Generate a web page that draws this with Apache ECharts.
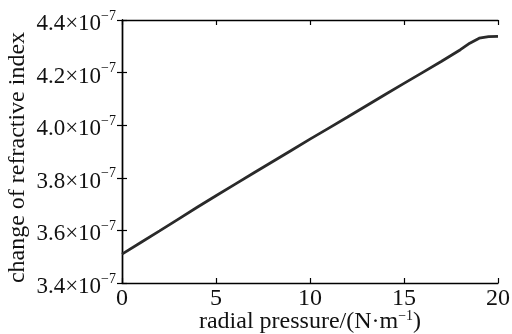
<!DOCTYPE html>
<html>
<head>
<meta charset="utf-8">
<script src="https://cdn.jsdelivr.net/npm/echarts@6/dist/echarts.min.js"></script>
<style>
html,body{margin:0;padding:0;background:#fff;}
#c{width:512px;height:334px;}
</style>
</head>
<body>
<div id="c"></div>
<script>
// radial pressure (N·m^-1)
const pressure = [0, 1, 2, 3, 4, 5, 6, 7, 8, 9, 10, 11, 12, 13, 14, 15, 16, 17, 18, 18.5, 19, 19.5, 20];
// change of refractive index, in units of 1e-7
const refrChange = [3.51, 3.554, 3.598, 3.643, 3.688, 3.732, 3.775, 3.818, 3.861, 3.904, 3.947, 3.989, 4.031, 4.074, 4.117, 4.159, 4.201, 4.243, 4.287, 4.312, 4.331, 4.337, 4.338];
const xTicks = [0, 5, 10, 15, 20];
const yTicks = [3.4, 3.6, 3.8, 4.0, 4.2, 4.4];
const yExponent = '−7';

const FONT = '"Liberation Serif", "DejaVu Serif", serif';
const data = pressure.map((p, i) => [p, refrChange[i]]);

const axisLine = {show: true, lineStyle: {color: '#000', width: 1.4}};
const axisTick = {show: true, inside: true, length: 5, lineStyle: {color: '#000', width: 1.2}};

const chart = echarts.init(document.getElementById('c'), null, {renderer: 'canvas'});
chart.setOption({
  animation: false,
  backgroundColor: '#fff',
  grid: {left: 122, right: 14, top: 20, bottom: 51, containLabel: false, outerBoundsMode: 'none'},
  xAxis: [{
    type: 'value', min: xTicks[0], max: xTicks[xTicks.length - 1], interval: 5,
    position: 'bottom',
    axisLine, axisTick, splitLine: {show: false},
    axisLabel: {fontFamily: FONT, fontSize: 24, color: '#111', margin: 4},
    name: 'radial pressure/(N·m{s|−1})', nameLocation: 'middle', nameGap: 26, nameMoveOverlap: false,
    nameTextStyle: {fontFamily: FONT, fontSize: 24, color: '#111',
      rich: {s: {fontFamily: FONT, fontSize: 14, color: '#111', padding: [0, 0, 12, 0]}}}
  }, {
    type: 'value', min: xTicks[0], max: xTicks[xTicks.length - 1], interval: 5,
    position: 'top', axisLine, axisTick, axisLabel: {show: false}, splitLine: {show: false}
  }],
  yAxis: [{
    type: 'value', min: yTicks[0], max: yTicks[yTicks.length - 1], interval: 0.2,
    position: 'left',
    axisLine, axisTick, splitLine: {show: false},
    axisLabel: {
      margin: 6,
      formatter: v => '{m|' + v.toFixed(1) + '×10}{s|' + yExponent + '}',
      rich: {
        m: {fontFamily: FONT, fontSize: 23, color: '#111', padding: [8, 0, 0, 0]},
        s: {fontFamily: FONT, fontSize: 14, color: '#111', padding: [0, 0, 8, 0]}
      }
    },
    name: 'change of refractive index', nameLocation: 'middle', nameGap: 92, nameMoveOverlap: false,
    nameTextStyle: {fontFamily: FONT, fontSize: 24, color: '#111', padding: [0, 12, 0, 0]}
  }, {
    type: 'value', min: yTicks[0], max: yTicks[yTicks.length - 1], interval: 0.2,
    position: 'right', axisLine, axisTick, axisLabel: {show: false}, splitLine: {show: false}
  }],
  series: [{
    type: 'line', data, xAxisIndex: 0, yAxisIndex: 0,
    showSymbol: false, symbol: 'none',
    lineStyle: {color: '#2a2a2a', width: 2.8}
  }]
});
</script>
</body>
</html>
